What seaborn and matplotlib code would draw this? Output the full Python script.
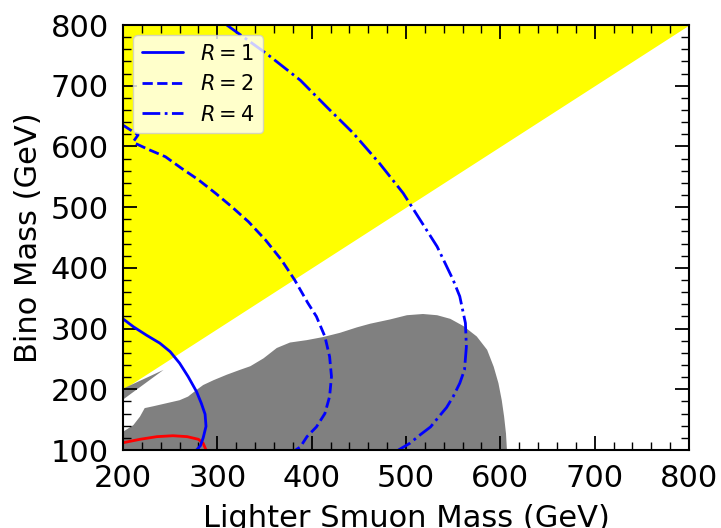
import matplotlib
matplotlib.use('Agg')
import matplotlib.pyplot as plt
from matplotlib.ticker import MultipleLocator
import seaborn as sns

# bino heavier than smuon (yellow region above the diagonal)
diag_x = [200, 800]
y_top = 800

# excluded region (gray)
excl_x = [200, 200, 211, 218, 223, 232, 246, 260, 269, 278, 285, 296, 310, 324, 335,
          349, 363, 377, 395, 412, 430, 448, 462, 483, 501, 518, 533, 547, 561, 575,
          586, 593, 598, 601.5, 604, 606, 607]
excl_y = [100, 130, 141, 155, 169, 172, 177, 182, 188, 199, 207, 215, 224, 232, 238,
          251, 268, 277, 281, 286, 293, 302, 308, 315, 322, 324, 322, 316, 304, 287,
          265, 237, 210, 182, 155, 127, 100]

# small gray wedge near the diagonal
wedge_x = [200, 243, 200]
wedge_y = [201, 232, 183]

# red contour
red_x = [200, 218, 236, 253, 268, 280, 285, 288]
red_y = [112, 117.6, 122, 123.5, 122, 117.6, 111, 100]

# R contours
r1_x = [200, 211, 225, 239, 250, 260, 269, 278, 283, 287, 288, 285, 282, 278]
r1_y = [316, 303, 289, 276, 262, 243, 221, 196, 177, 159, 139, 120, 107, 100]

r2_x = [200, 216, 211, 213, 227, 245, 262, 280, 298, 315, 333, 351, 368, 382, 396,
        405, 414, 419, 421, 419, 414, 405, 395, 388, 383]
r2_y = [635, 619, 608, 605, 595, 583, 564, 545, 523, 501, 476, 446, 413, 380, 342,
        320, 287, 254, 221, 188, 160, 138, 122, 105, 100]

r4_x = [310, 352, 388, 416, 444, 472, 497, 515, 533, 550, 557, 563, 564, 562, 557,
        550, 543, 536, 526, 515, 504, 492]
r4_y = [800, 753, 709, 665, 622, 572, 523, 479, 435, 380, 353, 309, 270, 232, 210,
        188, 170, 157, 138, 125, 111, 100]

sns.set_style('ticks', rc={'text.color': 'black', 'axes.labelcolor': 'black',
                           'xtick.color': 'black', 'ytick.color': 'black',
                           'axes.edgecolor': 'black'})
plt.rcParams['font.family'] = ['DejaVu Sans']

fig, ax = plt.subplots(figsize=(7.21, 5.28), dpi=100)
fig.subplots_adjust(left=123/721, right=689/721, top=1-25/528, bottom=1-450/528)

ax.fill_between(diag_x, diag_x, y_top, color='yellow', lw=0, zorder=1)
ax.fill(excl_x, excl_y, color='gray', lw=0, zorder=2)
ax.fill(wedge_x, wedge_y, color='gray', lw=0, zorder=2)

line_kw = dict(sort=False, estimator=None, lw=2, ax=ax)
sns.lineplot(x=red_x, y=red_y, color='red', legend=False, zorder=3, **line_kw)
sns.lineplot(x=r1_x, y=r1_y, color='blue', ls='-', label='$R=1$', zorder=4, **line_kw)
sns.lineplot(x=r2_x, y=r2_y, color='blue', ls='--', label='$R=2$', zorder=4, **line_kw)
sns.lineplot(x=r4_x, y=r4_y, color='blue', ls='-.', label='$R=4$', zorder=4, **line_kw)

ax.set_xlim(200, 800)
ax.set_ylim(100, 800)
ax.set_axisbelow(False)
ax.xaxis.set_major_locator(MultipleLocator(100))
ax.yaxis.set_major_locator(MultipleLocator(100))
ax.xaxis.set_minor_locator(MultipleLocator(20))
ax.yaxis.set_minor_locator(MultipleLocator(20))
ax.tick_params(which='both', direction='in', top=True, right=True, labelsize=22, pad=10)
ax.tick_params(which='major', length=10, width=1.3)
ax.tick_params(which='minor', length=5.5, width=1.0)
for s in ax.spines.values():
    s.set_linewidth(1.5)
    s.set_zorder(6)

ax.set_xlabel('Lighter Smuon Mass (GeV)', fontsize=22, labelpad=8)
ax.set_ylabel('Bino Mass (GeV)', fontsize=22, labelpad=6)

leg = ax.legend(loc='upper left', fontsize=15, framealpha=0.8, fancybox=True)
leg.set_zorder(5)

fig.savefig('out.png', dpi=100)
